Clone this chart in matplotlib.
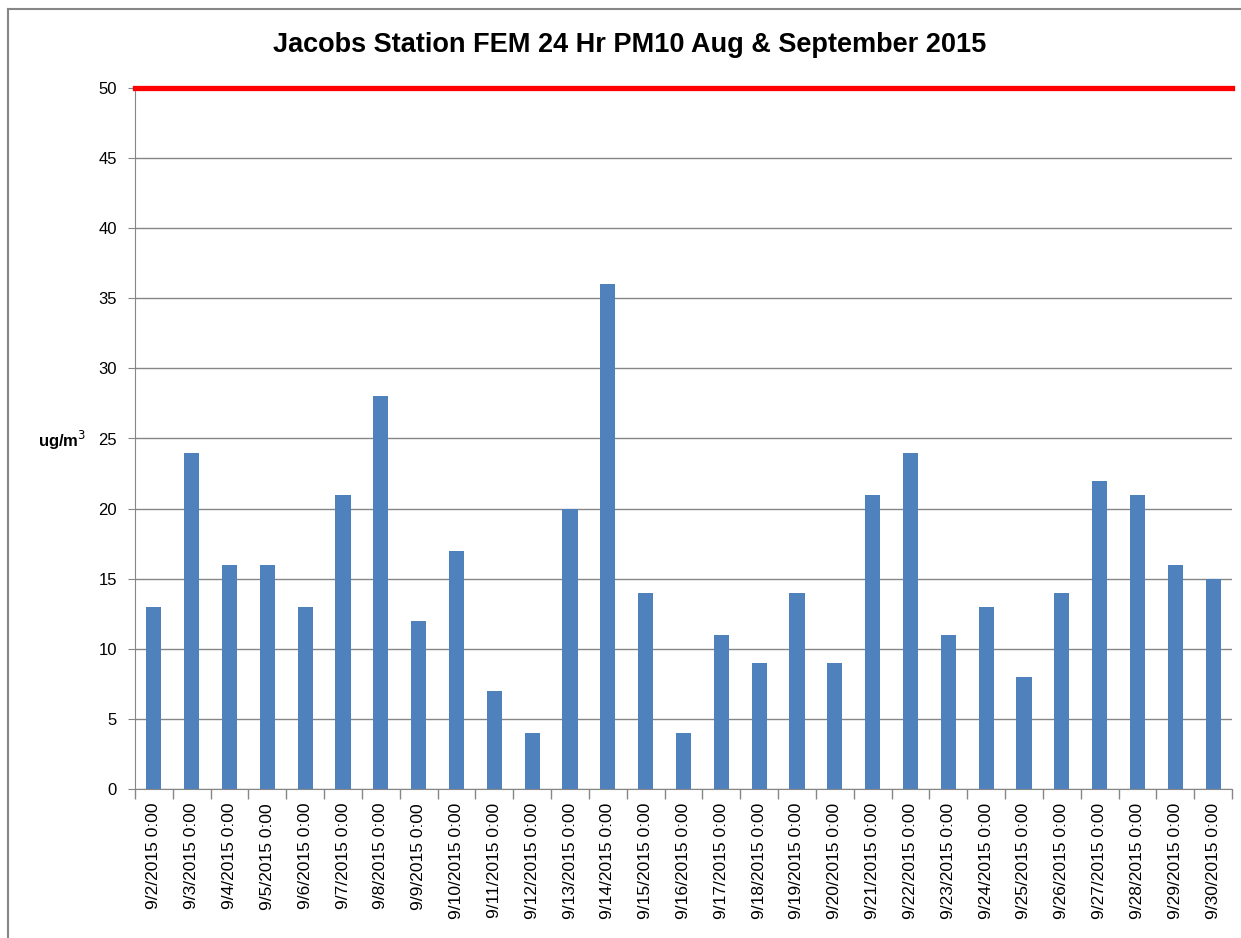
import matplotlib.pyplot as plt
from matplotlib.lines import Line2D
import numpy as np

dates = ["9/%d/2015 0:00" % d for d in range(2, 31)]
pm10 = [13, 24, 16, 16, 13, 21, 28, 12, 17, 7, 4, 20, 36, 14, 4,
        11, 9, 14, 9, 21, 24, 11, 13, 8, 14, 22, 21, 16, 15]
limit = 50

plt.rcParams['font.family'] = ['Liberation Sans', 'DejaVu Sans']

fig = plt.figure(figsize=(12.41, 9.38), dpi=100)
ax = fig.add_axes([135 / 1241, 1 - 789 / 938, (1232 - 135) / 1241, (789 - 88) / 938])

x = np.arange(len(pm10))
ax.bar(x, pm10, width=0.4, color='#4F81BD', zorder=3)
ax.axhline(limit, color='#FF0000', linewidth=3.8, zorder=4, clip_on=False)

ax.set_xlim(-0.5, len(pm10) - 0.5)
ax.set_ylim(0, 50)
ax.set_yticks(range(0, 51, 5))
ax.yaxis.grid(True, color='#868686', linewidth=1, zorder=0)

ax.set_xticks(x)
ax.set_xticklabels(dates, rotation=90, fontsize=12.5)
ax.set_xticks(np.arange(-0.5, len(pm10), 1), minor=True)
ax.tick_params(axis='x', which='major', length=0, pad=10)
ax.tick_params(axis='x', which='minor', length=7, color='#868686', width=1)
ax.tick_params(axis='y', length=5, color='#868686', labelsize=12, pad=8)

for s in ['top', 'right']:
    ax.spines[s].set_visible(False)
for s in ['left', 'bottom']:
    ax.spines[s].set_color('#868686')

fig.text(86 / 1241, 1 - 440 / 938, "ug/m$^3$", fontsize=12, fontweight='bold',
         ha='right', va='center')
fig.text(630 / 1241, 1 - 45 / 938, "Jacobs Station FEM 24 Hr PM10 Aug & September 2015",
         fontsize=19.5, fontweight='bold', ha='center', va='center')

# outer chart border (only left and top visible, rest cropped)
fig.add_artist(Line2D([8 / 1241, 8 / 1241], [0, 1 - 9 / 938], transform=fig.transFigure,
                      color='#868686', linewidth=1.5))
fig.add_artist(Line2D([8 / 1241, 1], [1 - 9 / 938, 1 - 9 / 938], transform=fig.transFigure,
                      color='#868686', linewidth=1.5))

plt.savefig("out.png", dpi=100)
